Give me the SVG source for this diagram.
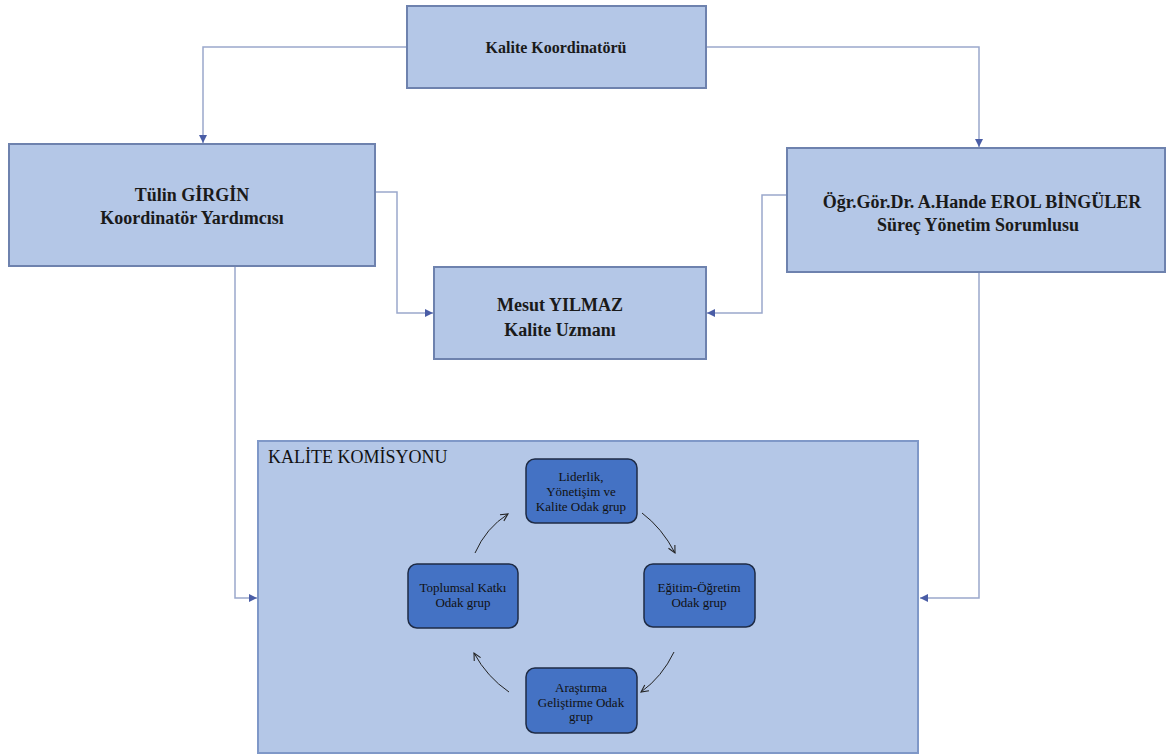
<svg xmlns="http://www.w3.org/2000/svg" width="1166" height="755" viewBox="0 0 1166 755">
<defs>
<style>
.box{fill:#B4C7E7;stroke:#6E82AE;stroke-width:2}
.comm{fill:#B4C7E7;stroke:#7F98C8;stroke-width:2}
.inner{fill:#4472C4;stroke:#1E2B45;stroke-width:1.5}
.t{font-family:'Liberation Serif','Times New Roman',Tinos,'DejaVu Serif',serif;font-weight:bold;font-size:18px;fill:#1a1a1a;text-anchor:middle}
.t16{font-size:16px}
.ti{font-family:'Liberation Serif','Times New Roman',Tinos,'DejaVu Serif',serif;font-size:13px;fill:#111;text-anchor:middle}
.title{font-family:'Liberation Serif','Times New Roman',Tinos,'DejaVu Serif',serif;font-size:18px;fill:#111}
.con{fill:none;stroke:#9AA8CC;stroke-width:1.5}
.cyc{fill:none;stroke:#222;stroke-width:1}
</style>
<marker id="ah" viewBox="0 0 10 10" refX="10" refY="5" markerWidth="8" markerHeight="8" markerUnits="userSpaceOnUse" orient="auto">
<path d="M0,0 L10,5 L0,10 z" fill="#4A5DA6"/>
</marker>
<marker id="oa" viewBox="0 0 10 10" refX="9" refY="5" markerWidth="9" markerHeight="9" markerUnits="userSpaceOnUse" orient="auto">
<path d="M1,1 L9,5 L1,9" fill="none" stroke="#222" stroke-width="1.2"/>
</marker>
</defs>
<rect width="1166" height="755" fill="#ffffff"/>

<g id="connectors">
<path class="con" d="M407,47 H203 V143" marker-end="url(#ah)"/>
<path class="con" d="M706,47 H979 V147" marker-end="url(#ah)"/>
<path class="con" d="M376,192 H397 V313 H433" marker-end="url(#ah)"/>
<path class="con" d="M786,195 H762 V313 H707" marker-end="url(#ah)"/>
<path class="con" d="M235,267 V598 H257" marker-end="url(#ah)"/>
<path class="con" d="M979,273 V598 H920" marker-end="url(#ah)"/>
</g>

<g id="kalite-koordinatoru">
<rect class="box" x="407" y="6" width="299" height="82"/>
<text class="t t16" x="556" y="53" font-family="Liberation Serif, serif">Kalite Koordinatörü</text>
</g>

<g id="tulin-girgin">
<rect class="box" x="9" y="144" width="366" height="122"/>
<text class="t" x="192" y="201">Tülin GİRGİN</text>
<text class="t" x="192" y="224">Koordinatör Yardımcısı</text>
</g>

<g id="hande-erol">
<rect class="box" x="787" y="148" width="378" height="124"/>
<text class="t" x="982" y="208">Öğr.Gör.Dr. A.Hande EROL BİNGÜLER</text>
<text class="t" x="978" y="231">Süreç Yönetim Sorumlusu</text>
</g>

<g id="mesut-yilmaz">
<rect class="box" x="434" y="267" width="272" height="92"/>
<text class="t" x="560" y="311">Mesut YILMAZ</text>
<text class="t" x="560" y="336">Kalite Uzmanı</text>
</g>

<g id="kalite-komisyonu">
<rect class="comm" x="258" y="441" width="660" height="312"/>
<text class="title" x="268" y="463">KALİTE KOMİSYONU</text>
</g>

<g id="liderlik">
<rect class="inner" x="526" y="459" width="111" height="64" rx="9"/>
<text class="ti" x="581" y="481">Liderlik,</text>
<text class="ti" x="581" y="496">Yönetişim ve</text>
<text class="ti" x="581" y="511">Kalite Odak grup</text>
</g>

<g id="egitim-ogretim">
<rect class="inner" x="644" y="564" width="111" height="63" rx="9"/>
<text class="ti" x="699" y="592">Eğitim-Öğretim</text>
<text class="ti" x="699" y="607">Odak grup</text>
</g>

<g id="arastirma">
<rect class="inner" x="526" y="668" width="111" height="65" rx="9"/>
<text class="ti" x="581" y="692">Araştırma</text>
<text class="ti" x="581" y="707">Geliştirme Odak</text>
<text class="ti" x="581" y="721">grup</text>
</g>

<g id="toplumsal-katki">
<rect class="inner" x="408" y="564" width="110" height="64" rx="9"/>
<text class="ti" x="463" y="592">Toplumsal Katkı</text>
<text class="ti" x="463" y="607">Odak grup</text>
</g>

<g id="cycle-arrows">
<path class="cyc" d="M475,553 Q486,528 508,514" marker-end="url(#oa)"/>
<path class="cyc" d="M642,513 Q662,528 675,553" marker-end="url(#oa)"/>
<path class="cyc" d="M674,652 Q662,677 641,692" marker-end="url(#oa)"/>
<path class="cyc" d="M509,692 Q487,677 474,653" marker-end="url(#oa)"/>
</g>
</svg>
